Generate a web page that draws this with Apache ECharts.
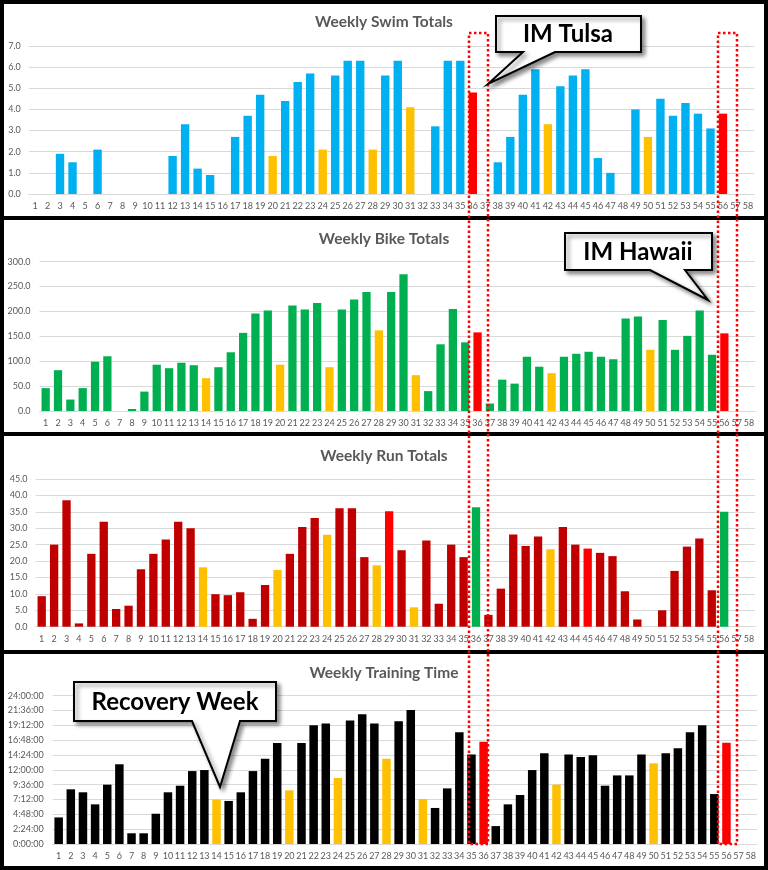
<!DOCTYPE html>
<html>
<head>
<meta charset="utf-8">
<script src="https://cdn.jsdelivr.net/npm/echarts@6/dist/echarts.min.js"></script>
<style>
  html, body { margin: 0; padding: 0; background: #fff; }
  #main { width: 768px; height: 870px; }
</style>
</head>
<body>
<div id="main"></div>
<script>
// weeks 1..58
var weeks = ['1','2','3','4','5','6','7','8','9','10','11','12','13','14','15','16','17','18','19','20',
  '21','22','23','24','25','26','27','28','29','30','31','32','33','34','35','36','37','38','39','40',
  '41','42','43','44','45','46','47','48','49','50','51','52','53','54','55','56','57','58'];

// swim per week
var swimTotals = [null,null,1.9,1.5,null,2.1,null,null,null,null,null,1.8,3.3,1.2,0.9,null,2.7,3.7,4.7,1.8,
  4.4,5.3,5.7,2.1,5.6,6.3,6.3,2.1,5.6,6.3,4.1,null,3.2,6.3,6.3,4.8,null,1.5,2.7,4.7,
  5.9,3.3,5.1,5.6,5.9,1.7,1.0,null,4.0,2.7,4.5,3.7,4.3,3.8,3.1,3.8,null,null];

var bikeTotals = [46,82,23,46,99,110,null,4,39,93,86,97,92,66,88,118,157,196,202,93,
  212,204,217,88,204,224,239,162,239,275,72,40,134,205,138,158,15,63,55,109,
  89,76,109,115,119,109,104,186,190,123,183,123,151,202,113,156,null,null];

var runTotals = [9.3,25.0,38.5,1.0,22.2,32.0,5.4,6.4,17.5,22.2,26.6,32.0,30.0,18.1,9.9,9.6,10.5,2.4,12.7,17.3,
  22.2,30.4,33.1,28.0,36.1,36.1,21.2,18.7,35.2,23.3,5.9,26.3,7.0,25.0,21.2,36.4,3.6,11.6,28.1,24.6,
  27.5,23.6,30.4,25.0,23.8,22.5,21.5,10.8,2.2,null,5.0,17.0,24.4,26.9,11.1,35.0,null,null];

// training time in minutes
var timeMinutes = [258,531,502,385,576,774,104,104,294,502,566,708,718,430,418,502,708,828,980,521,
  980,1152,1170,641,1200,1260,1170,828,1191,1302,437,350,540,1084,870,994,174,385,476,718,
  880,576,870,845,861,566,666,666,870,783,880,929,1084,1152,485,984,null,null];

var timeTicks = ['0:00:00','2:24:00','4:48:00','7:12:00','9:36:00','12:00:00','14:24:00',
  '16:48:00','19:12:00','21:36:00','24:00:00'];

// highlighted weeks
var swimRecovery = [20,24,28,31,42,50];
var recoveryWeeks = [14,20,24,28,31,42,50];
var raceWeeks = [36,56];
var runBrightWeeks = [29,45];

var ORANGE = '#FFC000';
var FONT = 'Lato';

function colored(values, base, recovery, race, raceColor, extra, extraColor) {
  return values.map(function (v, i) {
    var wk = i + 1;
    var c = base;
    if (recovery.indexOf(wk) >= 0) c = ORANGE;
    if (race.indexOf(wk) >= 0) c = raceColor;
    if (extra && extra.indexOf(wk) >= 0) c = extraColor;
    return { value: v, itemStyle: { color: c } };
  });
}

var myChart = echarts.init(document.getElementById('main'));

var grids = [
  { left: 28.75, width: 725.5, top: 46,    height: 148 },
  { left: 39.5,  width: 715.7, top: 261.7, height: 149.3 },
  { left: 35.5,  width: 719.7, top: 479,   height: 147.7 },
  { left: 52.6,  width: 704.2, top: 695.7, height: 148.3 }
];

function xAxisFor(idx) {
  return {
    type: 'category', gridIndex: idx, data: weeks,
    axisLine: { lineStyle: { color: '#D9D9D9' } },
    axisTick: { show: false },
    axisLabel: { interval: 0, color: '#595959', fontSize: 9, fontFamily: FONT, margin: 8 }
  };
}

function yAxisFor(idx, max, interval, fmt, margin) {
  return {
    type: 'value', gridIndex: idx, min: 0, max: max, interval: interval,
    axisLine: { show: false }, axisTick: { show: false },
    splitLine: { lineStyle: { color: '#D9D9D9' } },
    axisLabel: { color: '#595959', fontSize: 9, fontFamily: FONT, margin: margin, formatter: fmt }
  };
}

function titleFor(text, top) {
  return {
    text: text, left: 'center', top: top, padding: 0,
    textStyle: { color: '#595959', fontSize: 15.5, fontWeight: 'bold', fontFamily: FONT }
  };
}

function callout(points, text, cx, cy) {
  return [
    {
      type: 'polygon', z: 100,
      shape: { points: points },
      style: { fill: '#fff', stroke: '#000', lineWidth: 2,
        shadowBlur: 4, shadowOffsetX: 3, shadowOffsetY: 3, shadowColor: 'rgba(0,0,0,0.45)' }
    },
    {
      type: 'text', z: 101, x: cx, y: cy,
      style: { text: text, fill: '#000', font: 'bold 24px Lato', align: 'center', verticalAlign: 'middle' }
    }
  ];
}

function dottedBox(x, w) {
  return {
    type: 'rect', z: 90,
    shape: { x: x, y: 33, width: w, height: 811 },
    style: { fill: 'none', stroke: '#FF0000', lineWidth: 2.5, lineDash: [2.5, 2.5] }
  };
}

var graphics = [
  { type: 'rect', z: 80, shape: { x: 2, y: 2, width: 764, height: 866 },
    style: { fill: 'none', stroke: '#000', lineWidth: 4 } },
  { type: 'line', z: 80, shape: { x1: 0, y1: 218, x2: 768, y2: 218 }, style: { stroke: '#000', lineWidth: 4 } },
  { type: 'line', z: 80, shape: { x1: 0, y1: 434, x2: 768, y2: 434 }, style: { stroke: '#000', lineWidth: 4 } },
  { type: 'line', z: 80, shape: { x1: 0, y1: 652, x2: 768, y2: 652 }, style: { stroke: '#000', lineWidth: 4 } },
  dottedBox(469, 19),
  dottedBox(718, 19)
]
  .concat(callout([[496,16],[641,16],[641,52],[555,52],[488,84],[523,52],[496,52]], 'IM Tulsa', 568, 34))
  .concat(callout([[565,233],[712,233],[712,270],[685,270],[708,300],[650,270],[565,270]], 'IM Hawaii', 638, 252))
  .concat(callout([[74,682],[276,682],[276,721],[240,721],[220,787],[192,721],[74,721]], 'Recovery Week', 175, 702));

var option = {
  animation: false,
  backgroundColor: '#fff',
  title: [
    titleFor('Weekly Swim Totals', 14),
    titleFor('Weekly Bike Totals', 231),
    titleFor('Weekly Run Totals', 448),
    titleFor('Weekly Training Time', 665)
  ],
  grid: grids,
  xAxis: [xAxisFor(0), xAxisFor(1), xAxisFor(2), xAxisFor(3)],
  yAxis: [
    yAxisFor(0, 7, 1, function (v) { return v.toFixed(1); }, 8),
    yAxisFor(1, 300, 50, function (v) { return v.toFixed(1); }, 9),
    yAxisFor(2, 45, 5, function (v) { return v.toFixed(1); }, 8),
    yAxisFor(3, 1440, 144, function (v) { return timeTicks[Math.round(v / 144)]; }, 9)
  ],
  series: [
    { type: 'bar', xAxisIndex: 0, yAxisIndex: 0, barCategoryGap: '33%',
      data: colored(swimTotals, '#00B0F0', swimRecovery, raceWeeks, '#FF0000') },
    { type: 'bar', xAxisIndex: 1, yAxisIndex: 1, barCategoryGap: '33%',
      data: colored(bikeTotals, '#00B050', recoveryWeeks, raceWeeks, '#FF0000') },
    { type: 'bar', xAxisIndex: 2, yAxisIndex: 2, barCategoryGap: '33%',
      data: colored(runTotals, '#C00000', recoveryWeeks, raceWeeks, '#00B050', runBrightWeeks, '#FF0000') },
    { type: 'bar', xAxisIndex: 3, yAxisIndex: 3, barCategoryGap: '30%',
      data: colored(timeMinutes, '#000000', recoveryWeeks, raceWeeks, '#FF0000') }
  ],
  graphic: graphics
};

myChart.setOption(option);
</script>
</body>
</html>
